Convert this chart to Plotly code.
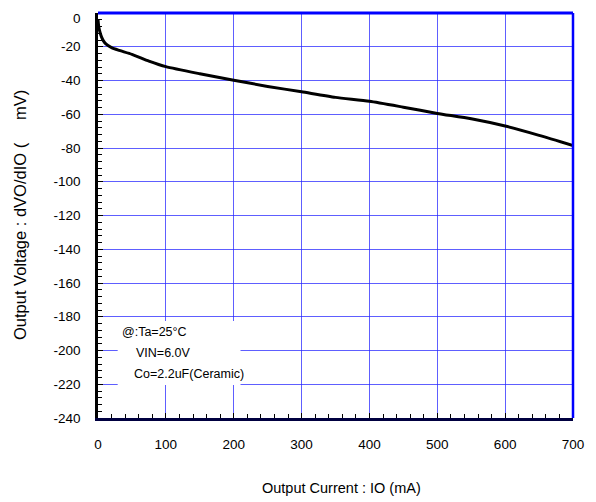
import plotly.graph_objects as go

io_ma = [0, 1, 3, 5, 8, 12, 20, 30, 50, 75, 100, 150, 200, 250, 300, 350, 400, 450, 500, 550, 600, 650, 700]
dvo_mv = [-4, -8, -11.5, -14, -16.5, -18.5, -20.5, -22, -24.5, -28.5, -31.8, -36, -39.8, -43.5, -46.7, -50, -52.3, -55.8, -59.5, -62.7, -67, -72.5, -78.5]

x_ticks = [0, 100, 200, 300, 400, 500, 600, 700]
y_ticks = [0, -20, -40, -60, -80, -100, -120, -140, -160, -180, -200, -220, -240]

notes = ["@:Ta=25°C", "VIN=6.0V", "Co=2.2uF(Ceramic)"]
x_title = "Output Current : IO (mA)"
y_title = "Output Voltage : dVO/dIO (     mV)"

FONT = "Liberation Sans, Arial, sans-serif"
GRID = "rgba(40,40,255,0.75)"

# page body has an 8px margin; the plot area lands at screen x 98..573, y 13..418
L, T, PW, PH = 90, 5, 475, 405
W, H = 580, 494

def px_x(sx):
    return (sx - 98) / PW

def px_y(sy):
    return 1 - (sy - 13) / PH

# the top tick label (0) would be clipped at the page edge, so it is drawn as a note just below it
y_ticktext = ["" if v == y_ticks[0] else str(v) for v in y_ticks]

fig = go.Figure()
fig.add_trace(go.Scatter(x=io_ma, y=dvo_mv, mode="lines",
                         line=dict(color="black", width=3, shape="spline", smoothing=0.6),
                         showlegend=False, hoverinfo="skip"))

fig.update_layout(
    width=W, height=H,
    margin=dict(l=L, r=W - L - PW, t=T, b=H - T - PH, pad=0),
    paper_bgcolor="white", plot_bgcolor="white",
    font=dict(family=FONT, size=13, color="black"),
    xaxis=dict(range=[0, 700], tickvals=x_ticks, ticktext=[str(v) for v in x_ticks],
               automargin=False, ticklabeloverflow="allow",
               showgrid=True, gridcolor=GRID, gridwidth=1.3, zeroline=False,
               showline=True, linecolor="#000040", linewidth=2.5,
               ticks="inside", ticklen=5, tickcolor="black", ticklabelstandoff=12,
               tickfont=dict(size=13.5),
               minor=dict(dtick=20, ticks="inside", ticklen=4, tickcolor="black", showgrid=False)),
    yaxis=dict(range=[-240, 0], tickvals=y_ticks, ticktext=y_ticktext,
               automargin=False, ticklabeloverflow="allow",
               showgrid=True, gridcolor=GRID, gridwidth=1.3, zeroline=False,
               showline=True, linecolor="black", linewidth=2.5,
               ticks="inside", ticklen=5, tickcolor="black", ticklabelstandoff=12,
               tickfont=dict(size=13.5),
               minor=dict(dtick=4, ticks="inside", ticklen=4, tickcolor="black", showgrid=False)),
)

fig.add_annotation(x=px_x(83), y=px_y(8.5), xref="paper", yref="paper", text=str(y_ticks[0]),
                   showarrow=False, xanchor="right", yanchor="top", font=dict(size=13.5))

# axis titles
fig.add_annotation(x=px_x(341), y=px_y(488), xref="paper", yref="paper", text=x_title,
                   showarrow=False, xanchor="center", yanchor="middle", font=dict(size=14.5))
fig.add_annotation(x=px_x(20), y=px_y(215), xref="paper", yref="paper",
                   text=y_title, showarrow=False, textangle=-90,
                   xanchor="center", yanchor="middle", font=dict(size=16.5))

# blue top/right border
fig.add_shape(type="line", xref="paper", yref="paper", x0=0, x1=1, y0=1, y1=1,
              line=dict(color="#0000ff", width=3), layer="above")
fig.add_shape(type="line", xref="paper", yref="paper", x0=1, x1=1, y0=0, y1=1,
              line=dict(color="#0000ff", width=2.5), layer="above")

# white note box
fig.add_shape(type="rect", xref="x", yref="y", x0=29, x1=210, y0=-182.5, y1=-220.5,
              fillcolor="white", line=dict(width=0), layer="above")

note_pos = [(32.4, -188.9), (53.5, -201.7), (49.6, -214.1)]
for txt, (xv, yv) in zip(notes, note_pos):
    fig.add_annotation(x=xv, y=yv, xref="x", yref="y", text=txt, showarrow=False,
                       xanchor="left", yanchor="middle", font=dict(size=12.5))

fig.write_html("out.html")
